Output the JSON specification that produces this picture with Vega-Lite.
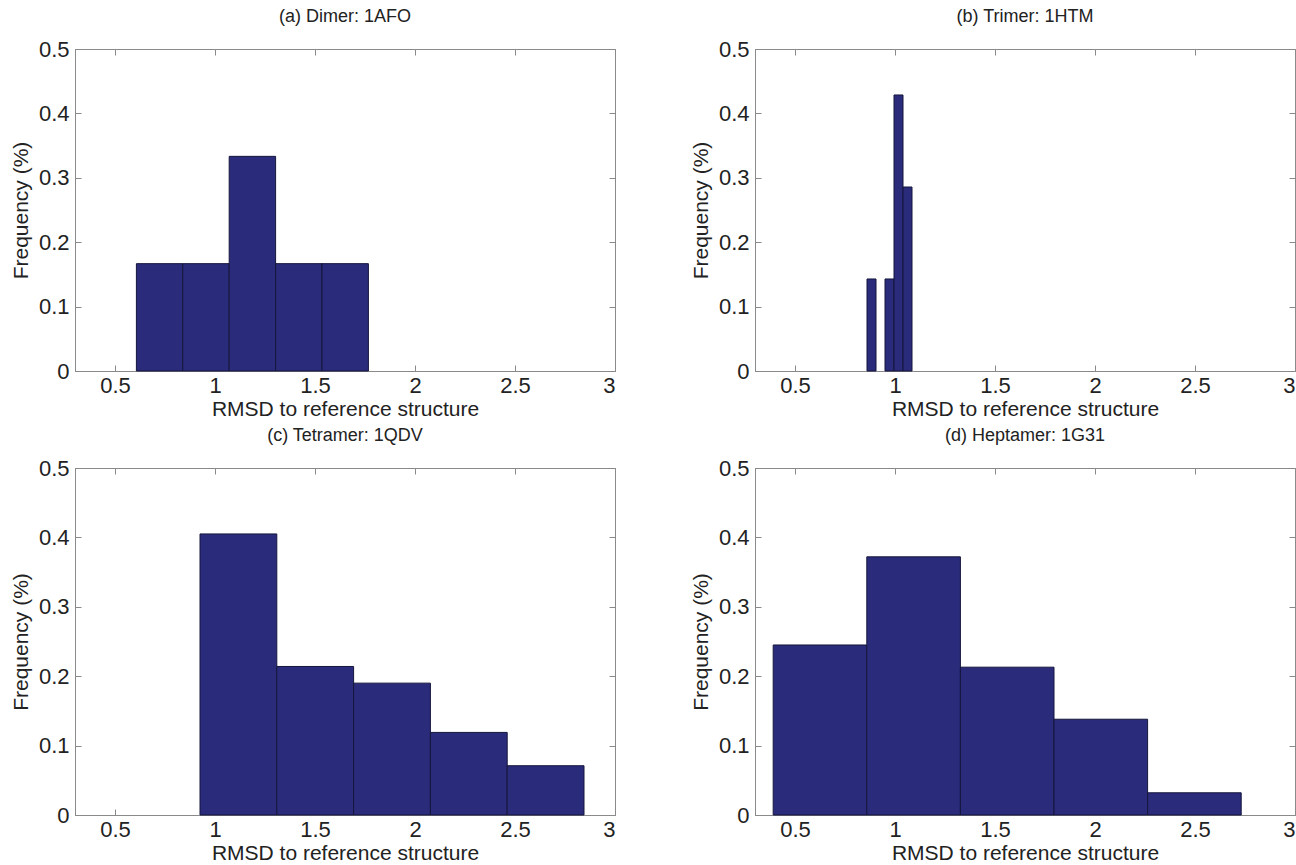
{
  "$schema": "https://vega.github.io/schema/vega-lite/v6.json",
  "padding": {"left": 9, "top": 7, "right": 0, "bottom": 0},
  "background": "white",
  "data": {"values": [
    {"panel": "a", "x0": 0.607, "x1": 0.839, "freq": 0.1667},
    {"panel": "a", "x0": 0.839, "x1": 1.071, "freq": 0.1667},
    {"panel": "a", "x0": 1.071, "x1": 1.303, "freq": 0.3333},
    {"panel": "a", "x0": 1.303, "x1": 1.535, "freq": 0.1667},
    {"panel": "a", "x0": 1.535, "x1": 1.767, "freq": 0.1667},
    {"panel": "b", "x0": 0.860, "x1": 0.905, "freq": 0.1429},
    {"panel": "b", "x0": 0.950, "x1": 0.995, "freq": 0.1429},
    {"panel": "b", "x0": 0.995, "x1": 1.040, "freq": 0.4286},
    {"panel": "b", "x0": 1.040, "x1": 1.085, "freq": 0.2857},
    {"panel": "c", "x0": 0.925, "x1": 1.309, "freq": 0.405},
    {"panel": "c", "x0": 1.309, "x1": 1.693, "freq": 0.214},
    {"panel": "c", "x0": 1.693, "x1": 2.077, "freq": 0.190},
    {"panel": "c", "x0": 2.077, "x1": 2.461, "freq": 0.119},
    {"panel": "c", "x0": 2.461, "x1": 2.845, "freq": 0.071},
    {"panel": "d", "x0": 0.391, "x1": 0.859, "freq": 0.245},
    {"panel": "d", "x0": 0.859, "x1": 1.327, "freq": 0.372},
    {"panel": "d", "x0": 1.327, "x1": 1.795, "freq": 0.213},
    {"panel": "d", "x0": 1.795, "x1": 2.263, "freq": 0.138},
    {"panel": "d", "x0": 2.263, "x1": 2.731, "freq": 0.032}
  ]},
  "bounds": "flush",
  "columns": 2,
  "spacing": {"row": 97, "column": 140},
  "concat": [
    {
      "title": "(a) Dimer: 1AFO",
      "width": 540, "height": 322,
      "transform": [{"filter": "datum.panel == 'a'"}],
      "layer": [
        {"mark": {"type": "bar", "color": "#2b2b7b", "stroke": "#15163c", "strokeWidth": 1},
         "encoding": {
           "x": {"field": "x0", "type": "quantitative", "scale": {"domain": [0.3, 3], "nice": false, "zero": false}, "axis": {"orient": "bottom", "values": [0.5, 1, 1.5, 2, 2.5, 3], "format": "~g", "title": "RMSD to reference structure"}},
           "x2": {"field": "x1"},
           "y": {"field": "freq", "type": "quantitative", "scale": {"domain": [0, 0.5], "nice": false}, "axis": {"orient": "left", "values": [0, 0.1, 0.2, 0.3, 0.4, 0.5], "format": "~g", "title": "Frequency (%)"}},
           "y2": {"datum": 0}
         }},
        {"mark": {"type": "bar", "opacity": 0},
         "encoding": {
           "x": {"field": "x0", "type": "quantitative", "axis": {"orient": "top", "values": [0.5, 1, 1.5, 2, 2.5, 3], "labels": false, "title": null}},
           "x2": {"field": "x1"},
           "y": {"field": "freq", "type": "quantitative", "axis": {"orient": "right", "values": [0, 0.1, 0.2, 0.3, 0.4, 0.5], "labels": false, "title": null}},
           "y2": {"datum": 0}
         }}
      ],
      "resolve": {"axis": {"x": "independent", "y": "independent"}}
    },
    {
      "title": "(b) Trimer: 1HTM",
      "width": 540, "height": 322,
      "transform": [{"filter": "datum.panel == 'b'"}],
      "layer": [
        {"mark": {"type": "bar", "color": "#2b2b7b", "stroke": "#15163c", "strokeWidth": 1},
         "encoding": {
           "x": {"field": "x0", "type": "quantitative", "scale": {"domain": [0.3, 3], "nice": false, "zero": false}, "axis": {"orient": "bottom", "values": [0.5, 1, 1.5, 2, 2.5, 3], "format": "~g", "title": "RMSD to reference structure"}},
           "x2": {"field": "x1"},
           "y": {"field": "freq", "type": "quantitative", "scale": {"domain": [0, 0.5], "nice": false}, "axis": {"orient": "left", "values": [0, 0.1, 0.2, 0.3, 0.4, 0.5], "format": "~g", "title": "Frequency (%)"}},
           "y2": {"datum": 0}
         }},
        {"mark": {"type": "bar", "opacity": 0},
         "encoding": {
           "x": {"field": "x0", "type": "quantitative", "axis": {"orient": "top", "values": [0.5, 1, 1.5, 2, 2.5, 3], "labels": false, "title": null}},
           "x2": {"field": "x1"},
           "y": {"field": "freq", "type": "quantitative", "axis": {"orient": "right", "values": [0, 0.1, 0.2, 0.3, 0.4, 0.5], "labels": false, "title": null}},
           "y2": {"datum": 0}
         }}
      ],
      "resolve": {"axis": {"x": "independent", "y": "independent"}}
    },
    {
      "title": "(c) Tetramer: 1QDV",
      "width": 540, "height": 347,
      "transform": [{"filter": "datum.panel == 'c'"}],
      "layer": [
        {"mark": {"type": "bar", "color": "#2b2b7b", "stroke": "#15163c", "strokeWidth": 1},
         "encoding": {
           "x": {"field": "x0", "type": "quantitative", "scale": {"domain": [0.3, 3], "nice": false, "zero": false}, "axis": {"orient": "bottom", "values": [0.5, 1, 1.5, 2, 2.5, 3], "format": "~g", "title": "RMSD to reference structure"}},
           "x2": {"field": "x1"},
           "y": {"field": "freq", "type": "quantitative", "scale": {"domain": [0, 0.5], "nice": false}, "axis": {"orient": "left", "values": [0, 0.1, 0.2, 0.3, 0.4, 0.5], "format": "~g", "title": "Frequency (%)"}},
           "y2": {"datum": 0}
         }},
        {"mark": {"type": "bar", "opacity": 0},
         "encoding": {
           "x": {"field": "x0", "type": "quantitative", "axis": {"orient": "top", "values": [0.5, 1, 1.5, 2, 2.5, 3], "labels": false, "title": null}},
           "x2": {"field": "x1"},
           "y": {"field": "freq", "type": "quantitative", "axis": {"orient": "right", "values": [0, 0.1, 0.2, 0.3, 0.4, 0.5], "labels": false, "title": null}},
           "y2": {"datum": 0}
         }}
      ],
      "resolve": {"axis": {"x": "independent", "y": "independent"}}
    },
    {
      "title": "(d) Heptamer: 1G31",
      "width": 540, "height": 347,
      "transform": [{"filter": "datum.panel == 'd'"}],
      "layer": [
        {"mark": {"type": "bar", "color": "#2b2b7b", "stroke": "#15163c", "strokeWidth": 1},
         "encoding": {
           "x": {"field": "x0", "type": "quantitative", "scale": {"domain": [0.3, 3], "nice": false, "zero": false}, "axis": {"orient": "bottom", "values": [0.5, 1, 1.5, 2, 2.5, 3], "format": "~g", "title": "RMSD to reference structure"}},
           "x2": {"field": "x1"},
           "y": {"field": "freq", "type": "quantitative", "scale": {"domain": [0, 0.5], "nice": false}, "axis": {"orient": "left", "values": [0, 0.1, 0.2, 0.3, 0.4, 0.5], "format": "~g", "title": "Frequency (%)"}},
           "y2": {"datum": 0}
         }},
        {"mark": {"type": "bar", "opacity": 0},
         "encoding": {
           "x": {"field": "x0", "type": "quantitative", "axis": {"orient": "top", "values": [0.5, 1, 1.5, 2, 2.5, 3], "labels": false, "title": null}},
           "x2": {"field": "x1"},
           "y": {"field": "freq", "type": "quantitative", "axis": {"orient": "right", "values": [0, 0.1, 0.2, 0.3, 0.4, 0.5], "labels": false, "title": null}},
           "y2": {"datum": 0}
         }}
      ],
      "resolve": {"axis": {"x": "independent", "y": "independent"}}
    }
  ],
  "config": {
    "font": "Liberation Sans",
    "view": {"stroke": "#8a8a8a", "strokeWidth": 1},
    "title": {"font": "Liberation Sans", "fontSize": 18, "fontWeight": "normal", "color": "#222222", "offset": 12, "anchor": "middle"},
    "axis": {
      "grid": false,
      "labelFont": "Liberation Sans", "labelFontSize": 22, "labelColor": "#222222",
      "titleFont": "Liberation Sans", "titleFontSize": 21, "titleFontWeight": "normal", "titleColor": "#222222",
      "domainColor": "#8a8a8a", "tickColor": "#8a8a8a", "tickSize": -6,
      "labelPadding": 12, "titlePadding": 2
    },
    "axisY": {"titlePadding": 7},
    "axisX": {"labelPadding": 10}
  }
}
